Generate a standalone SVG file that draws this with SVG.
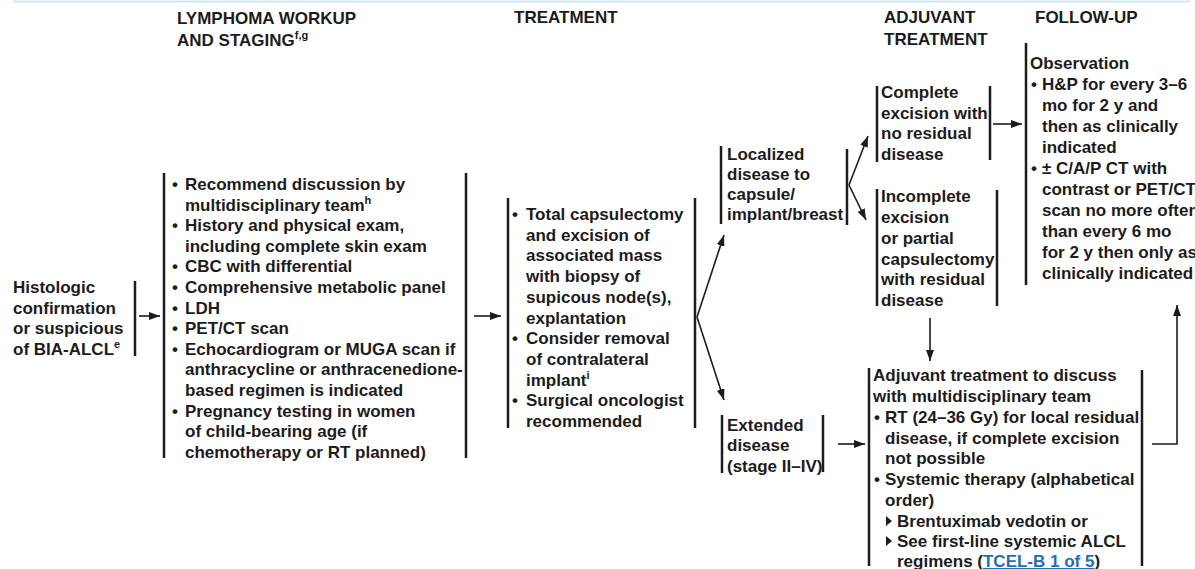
<svg xmlns="http://www.w3.org/2000/svg" width="1195" height="569" viewBox="0 0 1195 569">
<style>
.t{font-family:"Liberation Sans",Arial,Helvetica,sans-serif;font-weight:bold;font-size:17px;fill:#1c1c1c}
.s{font-size:11px}
.bar{stroke:#1c1c1c;stroke-width:2.5;fill:none}
.c{stroke:#1c1c1c;stroke-width:1.6;fill:none;marker-end:url(#ah)}
.lnk{fill:#1f6fb5;text-decoration:underline}
.tri{fill:#1c1c1c}
</style>
<defs>
<marker id="ah" markerUnits="userSpaceOnUse" markerWidth="11" markerHeight="8" refX="11" refY="4" orient="auto">
<path d="M0,0 L11,4 L0,8 Z" fill="#1c1c1c"/>
</marker>
</defs>
<rect width="1195" height="569" fill="#ffffff"/>
<line x1="13" y1="1.5" x2="1190" y2="1.5" stroke="#cfe9f4" stroke-width="2"/>

<g id="headers" class="t">
<text x="177" y="24">LYMPHOMA WORKUP</text>
<text x="177" y="46">AND STAGING<tspan class="s" dy="-7">f,g</tspan></text>
<text x="514" y="23">TREATMENT</text>
<text x="884" y="23">ADJUVANT</text>
<text x="884" y="45">TREATMENT</text>
<text x="1035" y="23">FOLLOW-UP</text>
</g>

<g id="n-histologic">
<line class="bar" x1="135" y1="281" x2="135" y2="356"/>
<g class="t">
<text x="13" y="293">Histologic</text>
<text x="13" y="314">confirmation</text>
<text x="13" y="334">or suspicious</text>
<text x="13" y="355">of BIA-ALCL<tspan class="s" dy="-7">e</tspan></text>
</g>
</g>

<g id="n-workup">
<line class="bar" x1="164" y1="173" x2="164" y2="458"/>
<line class="bar" x1="466" y1="173" x2="466" y2="458"/>
<g class="t">
<text x="172" y="190">•</text><text x="185" y="190">Recommend discussion by</text>
<text x="185" y="210.6">multidisciplinary team<tspan class="s" dy="-7">h</tspan></text>
<text x="172" y="231.2">•</text><text x="185" y="231.2">History and physical exam,</text>
<text x="185" y="251.8">including complete skin exam</text>
<text x="172" y="272.4">•</text><text x="185" y="272.4">CBC with differential</text>
<text x="172" y="293">•</text><text x="185" y="293">Comprehensive metabolic panel</text>
<text x="172" y="313.6">•</text><text x="185" y="313.6">LDH</text>
<text x="172" y="334.2">•</text><text x="185" y="334.2">PET/CT scan</text>
<text x="172" y="354.8">•</text><text x="185" y="354.8">Echocardiogram or MUGA scan if</text>
<text x="185" y="375.4">anthracycline or anthracenedione-</text>
<text x="185" y="396">based regimen is indicated</text>
<text x="172" y="416.6">•</text><text x="185" y="416.6">Pregnancy testing in women</text>
<text x="185" y="437.2">of child-bearing age (if</text>
<text x="185" y="457.8">chemotherapy or RT planned)</text>
</g>
</g>

<g id="n-treatment">
<line class="bar" x1="508" y1="198" x2="508" y2="428"/>
<line class="bar" x1="695" y1="198" x2="695" y2="428"/>
<g class="t">
<text x="512" y="220">•</text><text x="526" y="220">Total capsulectomy</text>
<text x="526" y="240.7">and excision of</text>
<text x="526" y="261.4">associated mass</text>
<text x="526" y="282.1">with biopsy of</text>
<text x="526" y="302.8">supicous node(s),</text>
<text x="526" y="323.5">explantation</text>
<text x="512" y="344.2">•</text><text x="526" y="344.2">Consider removal</text>
<text x="526" y="364.9">of contralateral</text>
<text x="526" y="385.6">implant<tspan class="s" dy="-7">i</tspan></text>
<text x="512" y="406.3">•</text><text x="526" y="406.3">Surgical oncologist</text>
<text x="526" y="427">recommended</text>
</g>
</g>

<g id="n-localized">
<line class="bar" x1="721" y1="146" x2="721" y2="224"/>
<line class="bar" x1="847" y1="149" x2="847" y2="225"/>
<g class="t">
<text x="727" y="160">Localized</text>
<text x="727" y="180">disease to</text>
<text x="727" y="200">capsule/</text>
<text x="727" y="220">implant/breast</text>
</g>
</g>

<g id="n-complete">
<line class="bar" x1="877" y1="86" x2="877" y2="162"/>
<line class="bar" x1="990" y1="86" x2="990" y2="160"/>
<g class="t">
<text x="881" y="98">Complete</text>
<text x="881" y="119">excision with</text>
<text x="881" y="139">no residual</text>
<text x="881" y="160">disease</text>
</g>
</g>

<g id="n-incomplete">
<line class="bar" x1="877" y1="189" x2="877" y2="306"/>
<line class="bar" x1="997" y1="190" x2="997" y2="306"/>
<g class="t">
<text x="881" y="202">Incomplete</text>
<text x="881" y="223">excision</text>
<text x="881" y="244">or partial</text>
<text x="881" y="265">capsulectomy</text>
<text x="881" y="285">with residual</text>
<text x="881" y="306">disease</text>
</g>
</g>

<g id="n-observation">
<line class="bar" x1="1026" y1="43" x2="1026" y2="285"/>
<g class="t">
<text x="1030" y="69">Observation</text>
<text x="1031" y="90">•</text><text x="1042" y="90">H&amp;P for every 3–6</text>
<text x="1042" y="111">mo for 2 y and</text>
<text x="1042" y="132">then as clinically</text>
<text x="1042" y="153">indicated</text>
<text x="1031" y="174">•</text><text x="1042" y="174">± C/A/P CT with</text>
<text x="1042" y="195">contrast or PET/CT</text>
<text x="1042" y="216">scan no more often</text>
<text x="1042" y="237">than every 6 mo</text>
<text x="1042" y="258">for 2 y then only as</text>
<text x="1042" y="279">clinically indicated</text>
</g>
</g>

<g id="n-extended">
<line class="bar" x1="722" y1="415" x2="722" y2="473"/>
<line class="bar" x1="823" y1="415" x2="823" y2="472"/>
<g class="t">
<text x="727" y="431">Extended</text>
<text x="727" y="451">disease</text>
<text x="727" y="472">(stage II–IV)</text>
</g>
</g>

<g id="n-adjuvant">
<line class="bar" x1="869" y1="368" x2="869" y2="566"/>
<line class="bar" x1="1142" y1="370" x2="1142" y2="566"/>
<path class="tri" d="M886,516 L892,521 L886,526 Z"/>
<path class="tri" d="M886,536 L892,541 L886,546 Z"/>
<g class="t">
<text x="873" y="381">Adjuvant treatment to discuss</text>
<text x="873" y="402">with multidisciplinary team</text>
<text x="874" y="423">•</text><text x="885" y="423">RT (24–36 Gy) for local residual</text>
<text x="885" y="444">disease, if complete excision</text>
<text x="885" y="464">not possible</text>
<text x="874" y="485">•</text><text x="885" y="485">Systemic therapy (alphabetical</text>
<text x="885" y="506">order)</text>
<text x="897" y="527">Brentuximab vedotin or</text>
<text x="897" y="547">See first-line systemic ALCL</text>
<text x="897" y="567">regimens (<tspan class="lnk">TCEL-B 1 of 5</tspan>)</text>
</g>
</g>

<g id="connectors">
<line class="c" x1="139" y1="316" x2="160" y2="316"/>
<line class="c" x1="474" y1="316" x2="501" y2="316"/>
<line class="c" x1="697" y1="317" x2="724" y2="235"/>
<line class="c" x1="697" y1="317" x2="724" y2="400"/>
<line class="c" x1="849" y1="185" x2="868" y2="136"/>
<line class="c" x1="849" y1="185" x2="866" y2="220"/>
<line class="c" x1="993" y1="124" x2="1022" y2="124"/>
<line class="c" x1="930" y1="318" x2="930" y2="361"/>
<line class="c" x1="838" y1="444" x2="865" y2="444"/>
<polyline class="c" points="1152,444 1177,444 1177,305"/>
</g>
</svg>
